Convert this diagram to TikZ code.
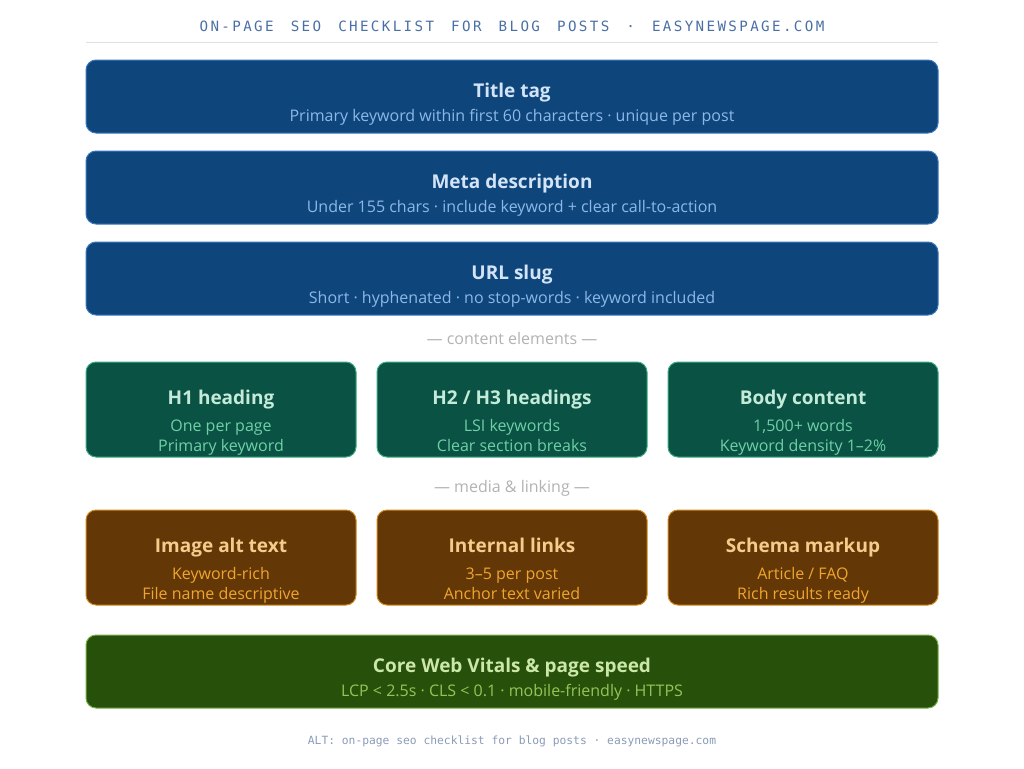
\documentclass[tikz,border=0pt]{standalone}
\usepackage{fontspec}
\setmainfont{Open Sans}
\setmonofont{DejaVu Sans Mono}
\begin{document}
\definecolor{bF}{HTML}{0E467C}\definecolor{bD}{HTML}{3A78C0}\definecolor{bT}{HTML}{D4E4F7}\definecolor{bS}{HTML}{8CB8E8}
\definecolor{tF}{HTML}{0A5244}\definecolor{tD}{HTML}{3DAA82}\definecolor{tT}{HTML}{C4EBDA}\definecolor{tS}{HTML}{6FD0A6}
\definecolor{oF}{HTML}{633806}\definecolor{oD}{HTML}{D0891E}\definecolor{oT}{HTML}{F6CC8C}\definecolor{oS}{HTML}{EFA530}
\definecolor{gF}{HTML}{27500A}\definecolor{gD}{HTML}{78AE4A}\definecolor{gT}{HTML}{CBE8A8}\definecolor{gS}{HTML}{97C459}
\newcommand\widecard[6]{% y, title, sub, name, prefix
 \draw[draw=#5D,fill=#5F,rounded corners=10pt,line width=1pt] (86,#1) rectangle (938,#1+73);
 \node[ttl,text=#5T] (#4t) at (512,#1+37) {#2};
 \node[sub,text=#5S] (#4s) at (512,#1+61) {#3};}
\newcommand\smallcard[7]{% x, y, title, sub1, sub2, name, prefix
 \draw[draw=#7D,fill=#7F,rounded corners=10pt,line width=1pt] (#1,#2) rectangle (#1+270,#2+95);
 \node[ttl,text=#7T] (#6t) at (#1+135,#2+42) {#3};
 \node[sub,text=#7S] (#6s) at (#1+135,#2+69) {#4};
 \node[sub,text=#7S] (#6u) at (#1+135,#2+89) {#5};}
\begin{tikzpicture}[x=1pt,y=-1pt,
 ttl/.style={font=\fontsize{19}{22}\selectfont\bfseries,anchor=base,inner sep=0pt},
 sub/.style={font=\fontsize{16}{20}\selectfont,anchor=base,inner sep=0pt},
 sep/.style={font=\fontsize{16}{18}\selectfont,text=black!30,anchor=base,inner sep=0pt}]
\useasboundingbox (0,0) rectangle (1024,768);
\node (hdr) at (512,26) {\fontsize{14.2}{16}\selectfont\ttfamily\color[HTML]{4A6FA5}O\,N\,-\,P\,A\,G\,E\ \ S\,E\,O\ \ C\,H\,E\,C\,K\,L\,I\,S\,T\ \ F\,O\,R\ \ B\,L\,O\,G\ \ P\,O\,S\,T\,S\ \ ·\ \ E\,A\,S\,Y\,N\,E\,W\,S\,P\,A\,G\,E\,.\,C\,O\,M};
\draw[black!12,line width=1pt] (86,43) -- (938,43);
\widecard{60}{Title tag}{Primary keyword within first 60 characters · unique per post}{a}{b}{}
\widecard{151}{Meta description}{Under 155 chars · include keyword + clear call-to-action}{b}{b}{}
\widecard{242}{URL slug}{Short · hyphenated · no stop-words · keyword included}{c}{b}{}
\node[sep] (s1) at (512,344) {— content elements —};
\smallcard{86}{362}{H1 heading}{One per page}{Primary keyword}{d}{t}
\smallcard{377}{362}{H2 / H3 headings}{LSI keywords}{Clear section breaks}{e}{t}
\smallcard{668}{362}{Body content}{1,500+ words}{Keyword density 1–2\%}{f}{t}
\node[sep] (s2) at (512,492) {— media \& linking —};
\smallcard{86}{510}{Image alt text}{Keyword-rich}{File name descriptive}{g}{o}
\smallcard{377}{510}{Internal links}{3–5 per post}{Anchor text varied}{h}{o}
\smallcard{668}{510}{Schema markup}{Article / FAQ}{Rich results ready}{i}{o}
\widecard{635}{Core Web Vitals \& page speed}{LCP < 2.5s · CLS < 0.1 · mobile-friendly · HTTPS}{j}{g}{}
\node (alt) at (512,741) {\fontsize{11.3}{13}\selectfont\ttfamily\color[HTML]{8A9BB5}ALT: on-page seo checklist for blog posts · easynewspage.com};
\end{tikzpicture}
\end{document}
